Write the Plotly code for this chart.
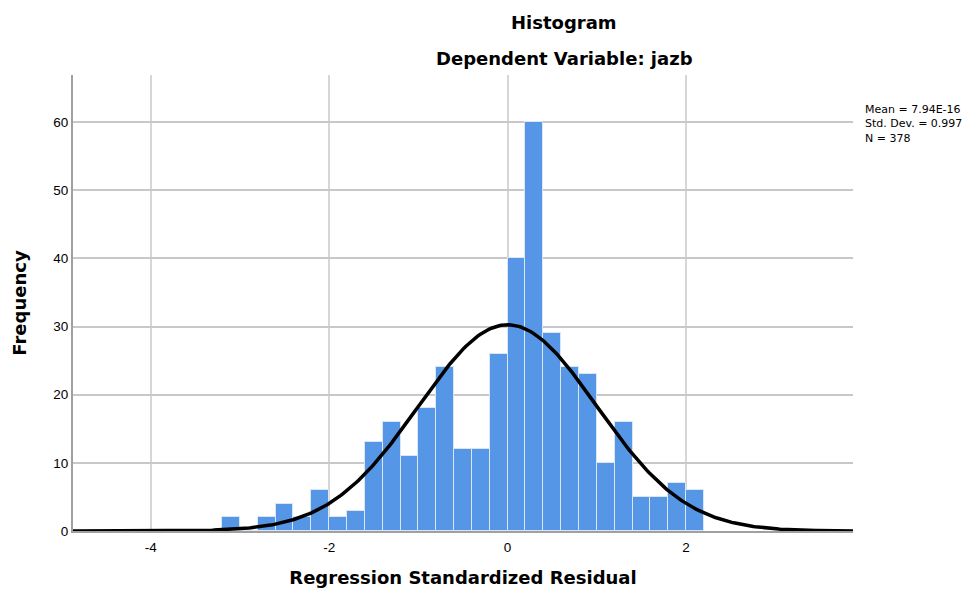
import numpy as np
import plotly.graph_objects as go

# Histogram bins (left edges) and counts
bin_left = [-3.2, -3.0, -2.8, -2.6, -2.4, -2.2, -2.0, -1.8, -1.6, -1.4, -1.2, -1.0, -0.8,
            -0.6, -0.4, -0.2, 0.0, 0.2, 0.4, 0.6, 0.8, 1.0, 1.2, 1.4, 1.6, 1.8, 2.0]
counts = [2, 0, 2, 4, 2, 6, 2, 3, 13, 16, 11, 18, 24,
          12, 12, 26, 40, 60, 29, 24, 23, 10, 16, 5, 5, 7, 6]
BIN_WIDTH = 0.2

# Summary statistics shown in the chart
MEAN = 7.94e-16
SD = 0.997
N = 378
stat_lines = ["Mean = 7.94E-16", f"Std. Dev. = {SD}", f"N = {N}"]

x_ticks = [-4, -2, 0, 2]
y_ticks = [0, 10, 20, 30, 40, 50, 60]
X_RANGE = [-4.87, 3.87]
Y_RANGE = [0, 66.9]

centers = [b + BIN_WIDTH / 2 for b in bin_left]

# fitted normal curve (as drawn by the stats package)
xs = np.linspace(X_RANGE[0], X_RANGE[1], 400)
ys = N * BIN_WIDTH * np.exp(-0.5 * ((xs - MEAN) / SD) ** 2) / (SD * np.sqrt(2 * np.pi))

font = "Liberation Sans, Arial, sans-serif"
tfont = "DejaVu Sans, sans-serif"

fig = go.Figure()
fig.add_trace(go.Bar(
    x=centers, y=counts, width=BIN_WIDTH,
    marker=dict(color="#5596e6", line=dict(color="#dbe6f5", width=1)),
    hoverinfo="x+y", showlegend=False,
))
fig.add_trace(go.Scatter(
    x=xs, y=ys, mode="lines", line=dict(color="black", width=3.5),
    hoverinfo="skip", showlegend=False,
))

L, R, T, B = 73, 122, 75, 59
W, H = 975, 590
PW, PH = W - L - R, H - T - B


def px_x(p):
    return (p - L) / PW


def px_y(p):
    return 1 + (T - p) / PH


annotations = [
    dict(text="<b>Histogram</b>", x=px_x(564), y=px_y(22), xanchor="center", yanchor="middle",
         xref="paper", yref="paper", showarrow=False, font=dict(size=18, family=tfont)),
    dict(text="<b>Dependent Variable: jazb</b>", x=px_x(564), y=px_y(59),
         xanchor="center", yanchor="middle", xref="paper", yref="paper",
         showarrow=False, font=dict(size=18, family=tfont)),
    dict(text="<br>".join(stat_lines), x=px_x(863), y=px_y(101), xref="paper", yref="paper",
         xanchor="left", yanchor="top", align="left", showarrow=False,
         font=dict(size=11, family=tfont)),
]

fig.update_layout(
    width=W, height=H,
    margin=dict(l=L, r=R, t=T, b=B),
    paper_bgcolor="white", plot_bgcolor="white",
    font=dict(family=font, color="black", size=12),
    bargap=0,
    xaxis=dict(
        range=X_RANGE, tickvals=x_ticks, ticktext=[str(v) for v in x_ticks],
        automargin=False,
        showgrid=True, gridcolor="#d6d6d6", gridwidth=2,
        zeroline=False, showline=True, linecolor="#a0a0a0", linewidth=2,
        ticks="", tickfont=dict(size=13.5, family=font), ticklabelstandoff=3,
        title=dict(text="<b>Regression Standardized Residual</b>",
                   font=dict(size=18, family=tfont), standoff=17),
    ),
    yaxis=dict(
        range=Y_RANGE, tickvals=y_ticks,
        automargin=False,
        showgrid=True, gridcolor="#c8c8c8", gridwidth=1.5,
        zeroline=False, showline=True, linecolor="#a0a0a0", linewidth=2,
        ticks="", tickfont=dict(size=13.5, family=font),
        title=dict(text="<b>Frequency</b>", font=dict(size=18, family=tfont), standoff=22),
    ),
    annotations=annotations,
)

post = (
    "document.documentElement.style.margin='0';"
    "document.documentElement.style.overflow='hidden';"
    "document.body.style.margin='0';"
    "document.body.style.overflow='hidden';"
)

fig.write_html("out.html", config={"displayModeBar": False}, post_script=post)
